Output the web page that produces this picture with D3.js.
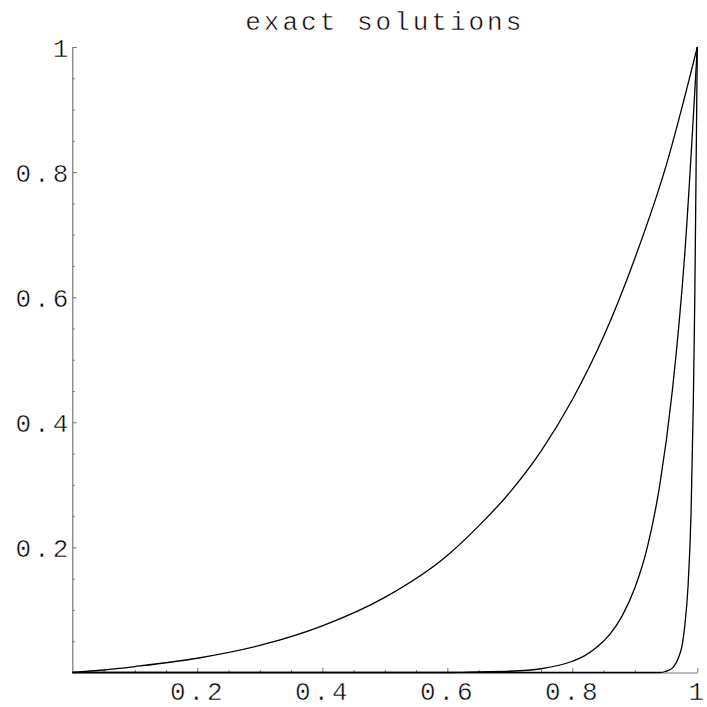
<!DOCTYPE html>
<html>
<head>
<meta charset="utf-8">
<script src="https://cdn.jsdelivr.net/npm/d3@7"></script>
<style>
  html, body { margin: 0; padding: 0; background: #fff; }
  svg { display: block; }
  .lbl { font-family: "Liberation Mono", "Courier New", monospace; font-size: 26px; fill: #000; letter-spacing: 3px;
         stroke: #fff; stroke-width: 0.5px; paint-order: fill; }
</style>
</head>
<body>
<svg id="chart" width="707" height="707"></svg>
<script>
// ---- data ----
const title = "exact solutions";
const majorTicks = [0.2, 0.4, 0.6, 0.8, 1];
const majorTickLabels = ["0.2", "0.4", "0.6", "0.8", "1"];
const minorTicks = [0.05, 0.1, 0.15, 0.25, 0.3, 0.35, 0.45, 0.5, 0.55, 0.65, 0.7, 0.75, 0.85, 0.9, 0.95];

// curve 1 (widest boundary layer)
const curve1X = [0, 0.05, 0.1, 0.2, 0.3, 0.4, 0.5, 0.6, 0.65, 0.7, 0.75, 0.8, 0.85, 0.9, 0.95, 1];
const curve1Y = [0, 0.004, 0.0095, 0.0228, 0.0432, 0.0745, 0.12, 0.187, 0.234, 0.288, 0.354, 0.436, 0.537, 0.662, 0.81, 1];
// curve 2
const curve2X = [0, 0.6, 0.65, 0.7, 0.75, 0.8, 0.82, 0.84, 0.86, 0.88, 0.9, 0.92, 0.94, 0.96, 0.98, 1];
const curve2Y = [0, 0, 0.001, 0.002, 0.006, 0.018, 0.027, 0.041, 0.061, 0.091, 0.135, 0.2, 0.3, 0.45, 0.67, 1];
// curve 3 (thinnest boundary layer)
const curve3X = [0, 0.94, 0.95, 0.96, 0.97, 0.975, 0.98, 0.985, 0.99, 0.9936, 0.996, 0.998, 1];
const curve3Y = [0, 0, 0.002, 0.007, 0.024, 0.04, 0.075, 0.135, 0.255, 0.43, 0.6, 0.8, 1];

const seriesList = [
  { xs: curve1X, ys: curve1Y },
  { xs: curve2X, ys: curve2Y },
  { xs: curve3X, ys: curve3Y }
];

// ---- layout ----
const svg = d3.select("#chart");
const mLeft = 72.3, mRight = 697.3, mTop = 47, mBottom = 672.5;

const x = d3.scaleLinear().domain([0, 1]).range([mLeft, mRight]);
const y = d3.scaleLinear().domain([0, 1]).range([mBottom, mTop]);

const axisColor = "#777";

// minor ticks
const xMinor = svg.append("g").attr("transform", `translate(0,${mBottom})`)
  .call(d3.axisBottom(x).tickValues(minorTicks).tickSizeInner(-2.5).tickSizeOuter(0).tickFormat(""));
const yMinor = svg.append("g").attr("transform", `translate(${mLeft},0)`)
  .call(d3.axisLeft(y).tickValues(minorTicks).tickSizeInner(-2.5).tickSizeOuter(0).tickFormat(""));
[xMinor, yMinor].forEach(g => { g.select(".domain").remove(); g.selectAll("line").attr("stroke", axisColor); });

// major axes
const xAxis = svg.append("g").attr("transform", `translate(0,${mBottom})`)
  .call(d3.axisBottom(x).tickValues(majorTicks).tickSizeInner(-4.5).tickSizeOuter(0).tickPadding(9)
    .tickFormat((d, i) => majorTickLabels[i]));
const yAxis = svg.append("g").attr("transform", `translate(${mLeft},0)`)
  .call(d3.axisLeft(y).tickValues(majorTicks).tickSizeInner(-4.5).tickSizeOuter(0).tickPadding(1)
    .tickFormat((d, i) => majorTickLabels[i]));

[xAxis, yAxis].forEach(g => {
  g.attr("font-size", null).attr("font-family", null);
  g.select(".domain").attr("stroke", axisColor).attr("stroke-width", 1.2);
  g.selectAll(".tick line").attr("stroke", axisColor);
  g.selectAll(".tick text").attr("class", "lbl");
});
yAxis.selectAll(".tick text").attr("dy", "0.36em");
xAxis.selectAll(".tick text").attr("dy", "0.71em");

// curves
const line = d3.line()
  .x(d => x(d[0]))
  .y(d => y(d[1]))
  .curve(d3.curveMonotoneX);

svg.append("g").selectAll("path.curve")
  .data(seriesList)
  .join("path")
  .attr("class", "curve")
  .attr("d", s => line(s.xs.map((v, i) => [v, s.ys[i]])))
  .attr("fill", "none")
  .attr("stroke", "#000")
  .attr("stroke-width", 1.3);

// title
svg.append("text")
  .attr("class", "lbl")
  .attr("x", x(0.5))
  .attr("y", 30)
  .attr("text-anchor", "middle")
  .text(title);
</script>
</body>
</html>
